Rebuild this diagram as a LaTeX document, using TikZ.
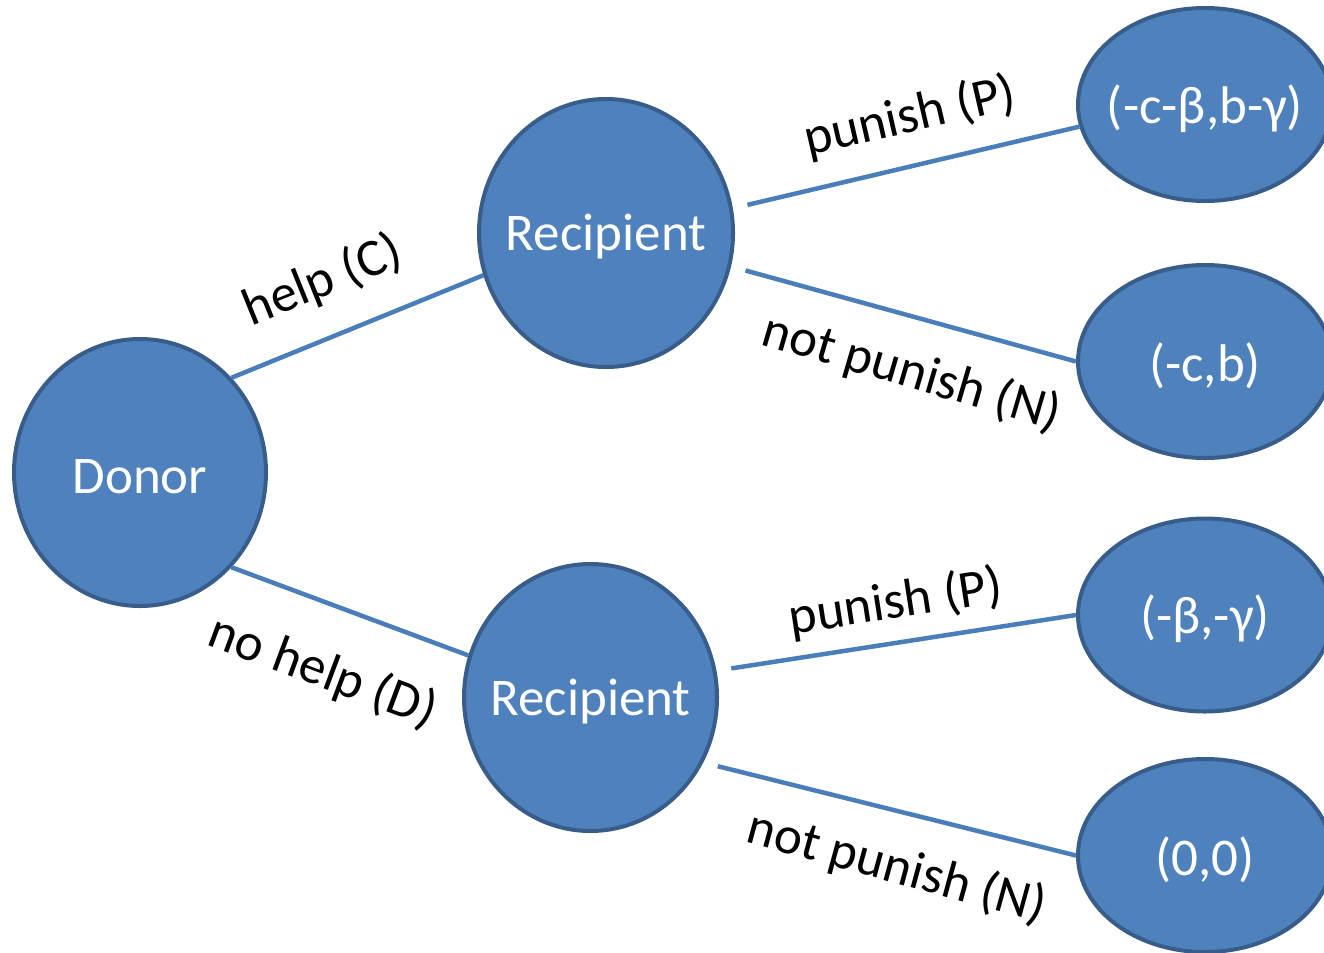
\documentclass[tikz,border=0pt]{standalone}
\usepackage{fontspec}
\setmainfont{Carlito}
\usetikzlibrary{shapes.geometric}
\definecolor{nodefill}{HTML}{4F81BD}
\definecolor{nodeedge}{HTML}{385D8A}
\definecolor{linkblue}{HTML}{4A7EBB}
% text that does not widen its ellipse, set a little below the centre
\newcommand{\ctext}[1]{\raisebox{-4bp}[\height][\depth]{\makebox[0pt][c]{#1}}}
\begin{document}
\begin{tikzpicture}[x=1bp,y=-1bp,
  player/.style={ellipse, draw=nodeedge, fill=nodefill, line width=4bp,
    text=white, inner sep=0pt, font=\fontsize{53bp}{60bp}\selectfont},
  payoff/.style={player, minimum width=254bp, minimum height=193bp},
  link/.style={draw=linkblue, line width=4.5bp},
  gap/.style={shorten <=15bp},
  lbl/.style={inner sep=0pt, text=black, font=\fontsize{53bp}{60bp}\selectfont}]
\useasboundingbox (0,0) rectangle (1324,952);

% players
\node[player, minimum width=252bp, minimum height=267bp] (donor) at (140,472.5) {\ctext{Donor}};
\node[player, minimum width=254bp, minimum height=268bp] (rtop) at (606,233) {\ctext{Recipient}};
\node[player, minimum width=253bp, minimum height=267bp] (rbot) at (590.5,697.5) {\ctext{Recipient}};

% payoffs
\node[payoff] (ptop1) at (1205,104.5) {\ctext{(-c-β,b-γ)}};
\node[payoff] (ptop2) at (1205,361.5) {\ctext{(-c,b)}};
\node[payoff] (pbot1) at (1205,615) {\ctext{(-β,-γ)}};
\node[payoff] (pbot2) at (1205,855.5) {\ctext{(0,0)}};

% moves
\draw[link] (donor.46) -- (rtop.199);
\draw[link] (donor.-46) -- (rbot.161);
\draw[link, gap] (rtop.11.4) -- (ptop1.190);
\draw[link, gap] (rtop.-15) -- (ptop2.180);
\draw[link, gap] (rbot.12) -- (pbot1.180);
\draw[link, gap] (rbot.-30) -- (pbot2.180);

% move labels
\node[lbl, rotate=22] (lhelp) at (323,281) {help (C)};
\node[lbl, rotate=-20.5] (lnohelp) at (323,672) {no help (D)};
\node[lbl, rotate=13] (lp1) at (910,117) {punish (P)};
\node[lbl, rotate=-16.4] (ln1) at (912,373) {not punish (N)};
\node[lbl, rotate=8.8] (lp2) at (896,603) {punish (P)};
\node[lbl, rotate=-15.3] (ln2) at (897,868) {not punish (N)};
\end{tikzpicture}
\end{document}
